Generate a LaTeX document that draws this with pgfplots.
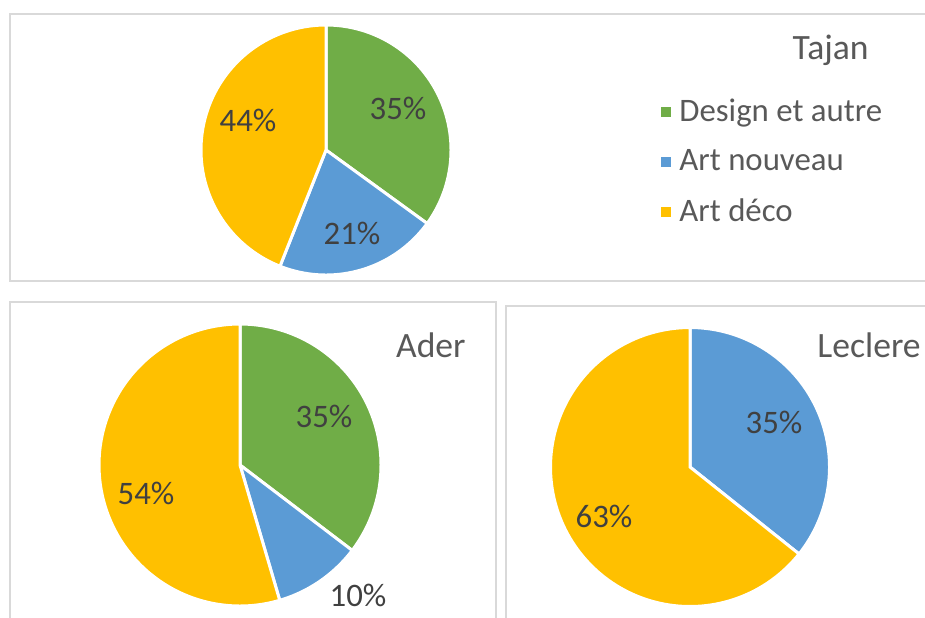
\documentclass[border=0pt]{standalone}
\usepackage{pgfplots}
\pgfplotsset{compat=1.18}
\usepackage{fontspec}
\setmainfont{Carlito}
\definecolor{cgreen}{HTML}{70AD47}
\definecolor{cblue}{HTML}{5B9BD5}
\definecolor{cyellow}{HTML}{FFC000}
\definecolor{ctext}{HTML}{595959}
\definecolor{clab}{HTML}{404040}
\definecolor{cframe}{HTML}{D9D9D9}

% data (percentages)
\def\TajanD{35}\def\TajanN{21}\def\TajanA{44}
\def\AderD{35}\def\AderN{10}\def\AderA{54}
\def\LecD{0}\def\LecN{35}\def\LecA{63}

\pgfmathsetmacro\TsA{360*(\TajanD/(\TajanD+\TajanN+\TajanA))}
\pgfmathsetmacro\TsB{360*((\TajanD+\TajanN)/(\TajanD+\TajanN+\TajanA))}
\pgfmathsetmacro\AsA{360*(\AderD/(\AderD+\AderN+\AderA))}
\pgfmathsetmacro\AsB{360*((\AderD+\AderN)/(\AderD+\AderN+\AderA))}
\pgfmathsetmacro\LsB{360*((\LecD+\LecN)/(\LecD+\LecN+\LecA))}

% slice: colour, cx, cy, r, from, to
\newcommand\slice[6]{%
\addplot[fill=#1, draw=white, line width=1.5pt, domain=#5:#6, samples=120, forget plot]
  ({#2+#4*sin(x)},{#3-#4*cos(x)}) -- (axis cs:#2,#3) -- cycle;}

\newcommand\lab{\fontsize{16.4}{19}\selectfont}
\newcommand\ttl{\fontsize{17.8}{21}\selectfont}

\begin{document}
\begin{tikzpicture}
\begin{axis}[
  scale only axis, width=462.5pt, height=308.5pt,
  xmin=0, xmax=925, ymin=0, ymax=617, y dir=reverse,
  hide axis, clip=false,
  legend cell align=left,
  legend image code/.code={\fill[#1] (0pt,-3.25pt) rectangle (6.5pt,3.25pt);},
  legend style={draw=none, fill=none, font=\lab, text=ctext,
    at={(axis cs:652,162)}, anchor=west, row sep=8.5pt,
    nodes={inner xsep=2.5pt}},
]
% frames
\draw[cframe, line width=0.6pt] (axis cs:940,14) -- (axis cs:10,14) -- (axis cs:10,281) -- (axis cs:940,281);
\draw[cframe, line width=0.6pt] (axis cs:10,640) -- (axis cs:10,302) -- (axis cs:496,302) -- (axis cs:496,640);
\draw[cframe, line width=0.6pt] (axis cs:506,640) -- (axis cs:506,306) -- (axis cs:940,306);

% Tajan
\addplot[fill=cgreen, draw=white, line width=1.5pt, domain=0:\TsA, samples=120]
  ({326+125*sin(x)},{150-125*cos(x)}) -- (axis cs:326,150) -- cycle;
\addlegendentry{Design et autre}
\addplot[fill=cblue, draw=white, line width=1.5pt, domain=\TsA:\TsB, samples=120]
  ({326+125*sin(x)},{150-125*cos(x)}) -- (axis cs:326,150) -- cycle;
\addlegendentry{Art nouveau}
\addplot[fill=cyellow, draw=white, line width=1.5pt, domain=\TsB:360, samples=120]
  ({326+125*sin(x)},{150-125*cos(x)}) -- (axis cs:326,150) -- cycle;
\addlegendentry{Art déco}

% Ader
\slice{cgreen}{240}{465}{141}{0}{\AsA}
\slice{cblue}{240}{465}{141}{\AsA}{\AsB}
\slice{cyellow}{240}{465}{141}{\AsB}{360}

% Leclere
\slice{cblue}{690}{467}{139.5}{0}{\LsB}
\slice{cyellow}{690}{467}{139.5}{\LsB}{360}

% data labels
\node[text=clab, font=\lab] at (axis cs:398,108) {\TajanD\%};
\node[text=clab, font=\lab] at (axis cs:352,233) {\TajanN\%};
\node[text=clab, font=\lab] at (axis cs:248,120) {\TajanA\%};
\node[text=clab, font=\lab] at (axis cs:324,416) {\AderD\%};
\node[text=clab, font=\lab] at (axis cs:358,595) {\AderN\%};
\node[text=clab, font=\lab] at (axis cs:146,493) {\AderA\%};
\node[text=clab, font=\lab] at (axis cs:774,422) {\LecN\%};
\node[text=clab, font=\lab] at (axis cs:604,516) {\LecA\%};

% titles
\node[text=ctext, font=\ttl, anchor=east, inner sep=0pt] at (axis cs:869,50) {Tajan};
\node[text=ctext, font=\ttl, anchor=east, inner sep=0pt] at (axis cs:466,345) {Ader};
\node[text=ctext, font=\ttl, anchor=west, inner sep=0pt] at (axis cs:817,345) {Leclere};
\end{axis}
\pgfresetboundingbox
\path (current axis.south west) rectangle (current axis.north east);
\end{tikzpicture}
\end{document}
